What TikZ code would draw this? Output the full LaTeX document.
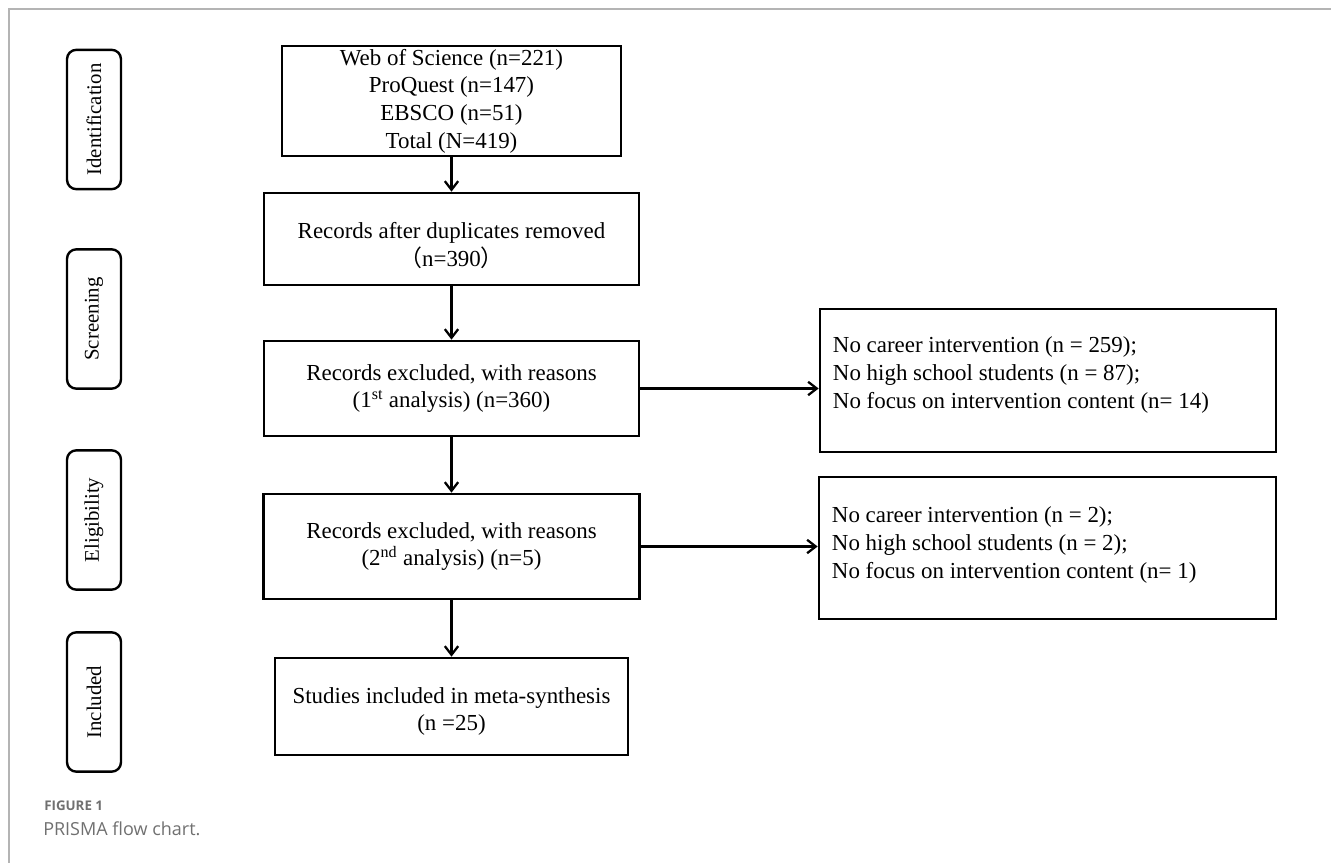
\documentclass[tikz,border=0pt]{standalone}
\usepackage{fontspec}
\setmainfont{Liberation Serif}
\newfontfamily\capfont{Open Sans}
\newfontfamily\cjkfont{Noto Sans CJK SC}
\usetikzlibrary{arrows.meta,calc}
\definecolor{framegray}{HTML}{B4B4B4}
\definecolor{capgray}{HTML}{707070}
\begin{document}
\begin{tikzpicture}[x=0.75pt,y=-0.75pt,
  box/.style={draw=black,line width=2pt,inner sep=0pt,align=center,
    font=\fontsize{17.2pt}{20.8pt}\selectfont},
  rbox/.style={draw=black,line width=2pt,inner sep=0pt},
  rtext/.style={inner sep=0pt,align=left,
    font=\fontsize{17.2pt}{21pt}\selectfont},
  stage/.style={draw=black,line width=1.8pt,rounded corners=7pt,inner sep=0pt,
    minimum width=40.5pt,minimum height=104.5pt},
  stagetext/.style={rotate=90,inner sep=0pt,font=\fontsize{15.6pt}{18pt}\selectfont},
  arr/.style={line width=1.7pt,-{Straight Barb[length=6.5pt,width=10pt,line width=1.7pt]}},
  frameline/.style={draw=framegray,line width=1.1pt}]
\useasboundingbox (0,0) rectangle (1331,863);
% frame
\coordinate (fbl) at (9,863);
\coordinate (ftl) at (9,9);
\coordinate (ftr) at (1331,9);
\draw[frameline] (fbl) -- (ftl) -- (ftr);
% stage labels
\node[stage] (sid) at (94,119.5) {};
\node[stagetext] (sidt) at (sid.center) {Identification};
\node[stage] (sscr) at (94,319) {};
\node[stagetext] (sscrt) at (sscr.center) {Screening};
\node[stage] (selig) at (94,520) {};
\node[stagetext] (seligt) at (selig.center) {Eligibility};
\node[stage] (sinc) at (94,702) {};
\node[stagetext] (sinct) at (sinc.center) {Included};
% main boxes
\node[box,minimum width=254.25pt,minimum height=82.5pt] (src) at (451.5,101)
  {Web of Science (n=221)\\ProQuest (n=147)\\EBSCO (n=51)\\Total (N=419)};
\node[box,minimum width=281.25pt,minimum height=69pt] (dup) at (451.5,239)
  {\rule{0pt}{22pt}Records after duplicates removed\\{\cjkfont （}n=390{\cjkfont ）}};
\node[box,minimum width=281.25pt,minimum height=71.25pt] (ex1) at (451.5,388.5)
  {Records excluded, with reasons\\(1\textsuperscript{st} analysis) (n=360)};
\node[box,minimum width=282pt,minimum height=78.75pt] (ex2) at (451.5,546.5)
  {Records excluded, with reasons\\(2\textsuperscript{nd} analysis) (n=5)};
\node[box,minimum width=264.75pt,minimum height=72.75pt] (inc) at (451.5,706.5)
  {\rule{0pt}{19.5pt}Studies included in meta-synthesis\\(n =25)};
% right boxes
\node[rbox,minimum width=342pt,minimum height=107.25pt] (r1) at (1048,380.5) {};
\node[rtext,anchor=west] (r1t) at ($(r1.west)+(14,-6)$)
  {No career intervention (n = 259);\\No high school students (n = 87);\\No focus on intervention content (n= 14)};
\node[rbox,minimum width=342.75pt,minimum height=106.5pt] (r2) at (1047.5,548) {};
\node[rtext,anchor=west] (r2t) at ($(r2.west)+(14,-3.5)$)
  {No career intervention (n = 2);\\No high school students (n = 2);\\No focus on intervention content (n= 1)};
% connectors
\draw[arr] (src.south) -- (dup.north);
\draw[arr] (dup.south) -- (ex1.north);
\draw[arr] (ex1.south) -- (ex2.north);
\draw[arr] (ex2.south) -- (inc.north);
\draw[arr] (ex1.east) -- (ex1.east -| r1.west);
\draw[arr] (ex2.east) -- (ex2.east -| r2.west);
% caption
\node[anchor=west,inner sep=0pt,text=capgray,font=\capfont\bfseries\fontsize{10pt}{12pt}\selectfont] (cap1) at (44,806) {FIGURE 1};
\node[anchor=west,inner sep=0pt,text=capgray,font=\capfont\fontsize{13.5pt}{16pt}\selectfont] (cap2) at (43,829) {PRISMA flow chart.};
\end{tikzpicture}
\end{document}
